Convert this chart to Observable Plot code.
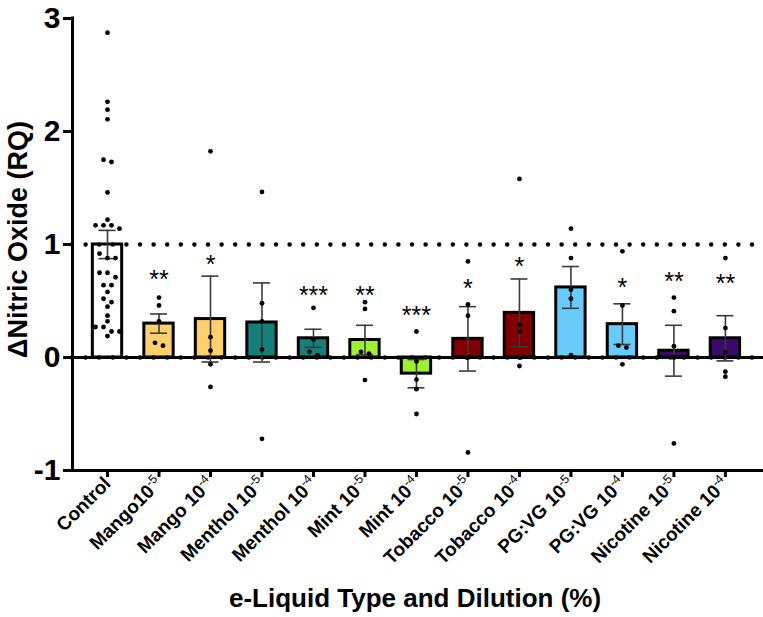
<!DOCTYPE html>
<html>
<head>
<meta charset="utf-8">
<script src="https://cdn.jsdelivr.net/npm/d3@7"></script>
<script src="https://cdn.jsdelivr.net/npm/@observablehq/plot@0.6"></script>
<style>
  body { margin: 0; background: #fff; }
  #chart svg [aria-label^="x-axis"] line, #chart svg [aria-label^="x-axis"] path,
  #chart svg [aria-label^="y-axis"] line, #chart svg [aria-label^="y-axis"] path { stroke-width: 3px; stroke: #000; }
</style>
</head>
<body>
<div id="chart"></div>
<script>
// ---- data ----
const categories = ["Control", "Mango 1e-5", "Mango 1e-4", "Menthol 1e-5", "Menthol 1e-4", "Mint 1e-5", "Mint 1e-4",
  "Tobacco 1e-5", "Tobacco 1e-4", "PG:VG 1e-5", "PG:VG 1e-4", "Nicotine 1e-5", "Nicotine 1e-4"];
const tickLabels = ["Control", "Mango10^-5", "Mango 10^-4", "Menthol 10^-5", "Menthol 10^-4", "Mint 10^-5", "Mint 10^-4",
  "Tobacco 10^-5", "Tobacco 10^-4", "PG:VG 10^-5", "PG:VG 10^-4", "Nicotine 10^-5", "Nicotine 10^-4"];
const means = [1.0, 0.30, 0.34, 0.31, 0.17, 0.155, -0.143, 0.165, 0.395, 0.62, 0.295, 0.06, 0.17];
const sems  = [0.125, 0.085, 0.38, 0.35, 0.08, 0.13, 0.125, 0.285, 0.30, 0.185, 0.18, 0.225, 0.20];
const sigLabels = ["", "**", "*", "", "***", "**", "***", "*", "*", "", "*", "**", "**"];
const sigLevels = [null, 0.74, 0.87, null, 0.60, 0.60, 0.42, 0.66, 0.85, null, 0.67, 0.72, 0.70];
const barColors = ["#ffffff", "#fdd06b", "#fdd06b", "#177f7a", "#177f7a", "#9cf22e", "#9cf22e",
  "#7f0000", "#7f0000", "#66ccfb", "#66ccfb", "#3b0a6c", "#3b0a6c"];

const ptsControl = [2.875, 2.263, 2.193, 2.108, 1.75, 1.73, 1.46, 1.22, 1.17, 1.17, 1.17, 1.14, 0.92, 0.88, 0.88,
  0.75, 0.75, 0.71, 0.64, 0.64, 0.58, 0.52, 0.49, 0.45, 0.37, 0.32, 0.27, 0.27, 0.23, 0.23, 0.19];
const ptsMango5 = [0.53, 0.46, 0.32, 0.13, 0.105];
const ptsMango4 = [1.825, 0.18, 0.06, -0.06, -0.26];
const ptsMenthol5 = [1.465, 0.48, 0.32, 0.07, -0.72];
const ptsMenthol4 = [0.44, 0.16, 0.05, 0.02];
const ptsMint5 = [0.49, 0.43, 0.05, 0.035, -0.2];
const ptsMint4 = [0.23, -0.035, -0.195, -0.28, -0.5];
const ptsTobacco5 = [0.85, 0.47, 0.37, 0.0, -0.84];
const ptsTobacco4 = [1.58, 0.29, 0.23, 0.0, -0.075];
const ptsPGVG5 = [1.14, 0.88, 0.60, 0.52, 0.02];
const ptsPGVG4 = [0.94, 0.46, 0.105, 0.088, -0.06];
const ptsNicotine5 = [0.53, 0.41, 0.10, 0.0, -0.76];
const ptsNicotine4 = [0.88, 0.26, 0.045, -0.125, -0.17];
const allPoints = [ptsControl, ptsMango5, ptsMango4, ptsMenthol5, ptsMenthol4, ptsMint5, ptsMint4,
  ptsTobacco5, ptsTobacco4, ptsPGVG5, ptsPGVG4, ptsNicotine5, ptsNicotine4];

const yTicks = [-1, 0, 1, 2, 3];
const refLines = [0, 1];
const xTitle = "e-Liquid Type and Dilution (%)";
const yTitle = "ΔNitric Oxide (RQ)";

// ---- derived tables ----
const summary = categories.map((c, i) => ({
  i, cat: c, mean: means[i], lo: means[i] - sems[i], hi: means[i] + sems[i],
  color: barColors[i], sig: sigLabels[i], sigY: sigLevels[i]
}));

// simple row-based swarm layout (GraphPad style): close values share a row, centered
function swarm(vals, thr, step) {
  const sorted = vals.slice().sort((a, b) => b - a);
  const rows = [];
  for (const v of sorted) {
    const row = rows[rows.length - 1];
    if (row && row[0] - v < thr) row.push(v); else rows.push([v]);
  }
  const out = [];
  for (const row of rows) row.forEach((v, j) => out.push({v, off: (j - (row.length - 1) / 2) * step}));
  return out;
}
const points = allPoints.flatMap((vals, i) => swarm(vals, 0.042, 0.155).map(p => ({i, x: i + p.off, v: p.v})));

const xDomain = [-0.68, 12.74];
const yDomain = [-1, 3];

const chart = Plot.plot({
  width: 763, height: 617,
  marginLeft: 72, marginRight: 0, marginTop: 18, marginBottom: 147,
  style: {fontFamily: "'Liberation Sans', Arial, sans-serif", fontWeight: "bold", fontSize: "19px", color: "#000", background: "#fff", overflow: "visible"},
  x: {domain: xDomain, ticks: d3.range(categories.length), tickFormat: i => tickLabels[i], tickRotate: -45, tickSize: 7, tickPadding: 3, label: null},
  y: {domain: yDomain, ticks: yTicks, tickFormat: d => String(d), tickSize: 9, tickPadding: 3, label: null},
  marks: [
    Plot.rectY(summary, {x1: d => d.i - 0.285, x2: d => d.i + 0.285, y: "mean", fill: "color", stroke: "#000", strokeWidth: 3}),
    Plot.ruleY([refLines[0]], {stroke: "#000", strokeWidth: 3}),
    Plot.ruleY(refLines, {stroke: "#000", strokeWidth: 4.5, strokeDasharray: "0 13.6", strokeLinecap: "round"}),
    Plot.ruleX(summary, {x: "i", y1: "lo", y2: "hi", stroke: "#3a3a3a", strokeWidth: 1.6}),
    Plot.ruleY(summary, {y: "hi", x1: d => d.i - 0.165, x2: d => d.i + 0.165, stroke: "#3a3a3a", strokeWidth: 1.6}),
    Plot.ruleY(summary, {y: "lo", x1: d => d.i - 0.165, x2: d => d.i + 0.165, stroke: "#3a3a3a", strokeWidth: 1.6}),
    Plot.dot(points, {x: "x", y: "v", r: 2.4, fill: "#000", stroke: null}),
    Plot.text(summary.filter(d => d.sig), {x: "i", y: "sigY", text: "sig", fontSize: 25, fontWeight: "normal", dy: 6, fill: "#000"}),
    Plot.ruleX([xDomain[0]], {stroke: "#000", strokeWidth: 3, strokeLinecap: "square"}),
    Plot.ruleY([yDomain[0]], {stroke: "#000", strokeWidth: 3, strokeLinecap: "square"}),
    Plot.text([yTitle], {frameAnchor: "left", textAnchor: "middle", dx: -54, dy: -5, rotate: -90, fontSize: 27, fontWeight: "bold", fill: "#000"}),
    Plot.text([xTitle], {frameAnchor: "bottom", textAnchor: "middle", dx: -3, dy: 136, fontSize: 26, fontWeight: "bold", fill: "#000"})
  ]
});

// superscripts for the dilution exponents in tick labels
chart.querySelectorAll("text").forEach(t => {
  const s = t.textContent;
  if (s.includes("^")) {
    const [base, sup] = s.split("^");
    t.textContent = base;
    const ts = document.createElementNS("http://www.w3.org/2000/svg", "tspan");
    ts.setAttribute("dy", "-0.6em");
    ts.setAttribute("font-size", "0.65em");
    ts.setAttribute("font-weight", "normal");
    ts.textContent = sup;
    t.appendChild(ts);
  }
});
chart.querySelectorAll('[aria-label^="y-axis"] text').forEach(t => { t.style.fontSize = "30px"; });
document.getElementById("chart").appendChild(chart);
</script>
</body>
</html>
